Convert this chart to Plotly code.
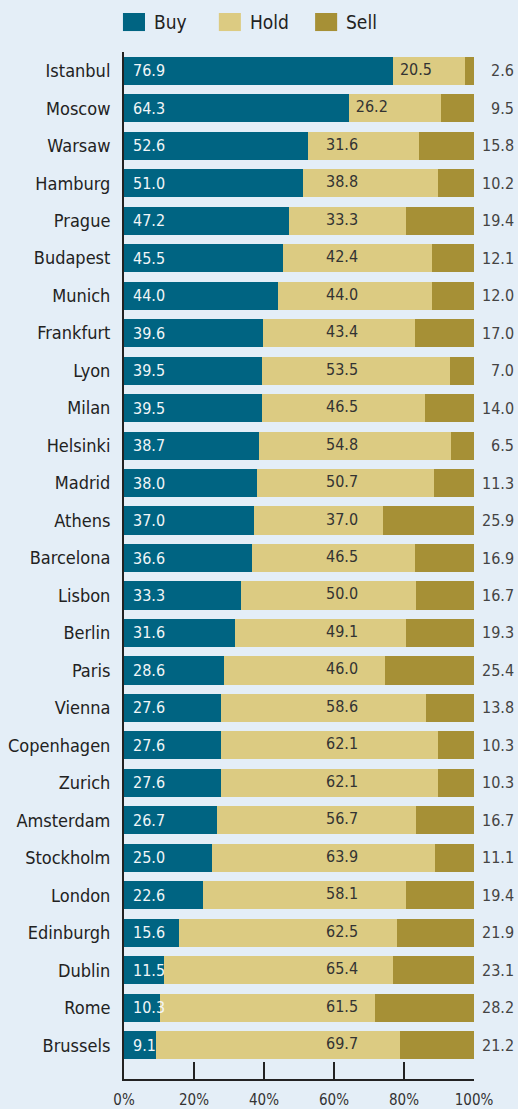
import plotly.graph_objects as go

# Survey shares (%) per city
cities = ["Istanbul", "Moscow", "Warsaw", "Hamburg", "Prague", "Budapest", "Munich",
          "Frankfurt", "Lyon", "Milan", "Helsinki", "Madrid", "Athens", "Barcelona",
          "Lisbon", "Berlin", "Paris", "Vienna", "Copenhagen", "Zurich", "Amsterdam",
          "Stockholm", "London", "Edinburgh", "Dublin", "Rome", "Brussels"]
buy = [76.9, 64.3, 52.6, 51.0, 47.2, 45.5, 44.0, 39.6, 39.5, 39.5, 38.7, 38.0, 37.0, 36.6,
       33.3, 31.6, 28.6, 27.6, 27.6, 27.6, 26.7, 25.0, 22.6, 15.6, 11.5, 10.3, 9.1]
hold = [20.5, 26.2, 31.6, 38.8, 33.3, 42.4, 44.0, 43.4, 53.5, 46.5, 54.8, 50.7, 37.0, 46.5,
        50.0, 49.1, 46.0, 58.6, 62.1, 62.1, 56.7, 63.9, 58.1, 62.5, 65.4, 61.5, 69.7]
sell = [2.6, 9.5, 15.8, 10.2, 19.4, 12.1, 12.0, 17.0, 7.0, 14.0, 6.5, 11.3, 25.9, 16.9,
        16.7, 19.3, 25.4, 13.8, 10.3, 10.3, 16.7, 11.1, 19.4, 21.9, 23.1, 28.2, 21.2]
series_names = ["Buy", "Hold", "Sell"]
tick_vals = [0, 20, 40, 60, 80, 100]
tick_text = ["0%", "20%", "40%", "60%", "80%", "100%"]

COLORS = {"Buy": "#006482", "Hold": "#dccb82", "Sell": "#a69036"}
BG = "#e4eef7"
FONT = "DejaVu Sans Condensed, Liberation Sans Narrow, Roboto, sans-serif"
HOLD_LABEL_COL = 62.3  # common column for the hold values

fig = go.Figure()
for name, vals in zip(series_names, [buy, hold, sell]):
    fig.add_trace(go.Bar(
        y=cities, x=vals, name=name, orientation="h",
        marker=dict(color=COLORS[name], line=dict(width=0)),
        showlegend=False, hoverinfo="x+y+name",
    ))

# hold values: shared column, pushed right where the buy bar extends past it
hold_x = [max(HOLD_LABEL_COL, b + 6.5) for b in buy]
fig.add_trace(go.Scatter(
    x=hold_x, y=cities, mode="text",
    text=[f"{v:.1f}" for v in hold], textposition="middle center",
    textfont=dict(family=FONT, size=16, color="#333333"),
    showlegend=False, hoverinfo="skip",
))

annotations = []
for c, b, s in zip(cities, buy, sell):
    annotations.append(dict(
        x=0, y=c, xref="x", yref="y", text=f"{b:.1f}", showarrow=False,
        xanchor="left", xshift=7, font=dict(family=FONT, size=16, color="#f2f6f8"),
    ))
    annotations.append(dict(
        x=100, y=c, xref="x", yref="y", text=f"{s:.1f}", showarrow=False,
        xanchor="right", xshift=42, font=dict(family=FONT, size=16, color="#444444"),
    ))

# legend row drawn above the plot
shapes = []
legend_x = [(-0.003, 0.08), (0.271, 0.354), (0.546, 0.629)]
for name, (x0, tx) in zip(series_names, legend_x):
    shapes.append(dict(type="rect", xref="paper", yref="paper",
                       x0=x0, x1=x0 + 0.063, y0=1.0204, y1=1.038,
                       fillcolor=COLORS[name], line=dict(width=0)))
    annotations.append(dict(x=tx, y=1.0292, xref="paper", yref="paper", text=name,
                            showarrow=False, xanchor="left", yanchor="middle",
                            font=dict(family=FONT, size=19, color="#222222")))

fig.update_layout(
    width=518, height=1109,
    barmode="stack", bargap=0.25,
    paper_bgcolor=BG, plot_bgcolor=BG,
    margin=dict(l=124, r=44, t=52, b=30),
    font=dict(family=FONT, color="#222222"),
    annotations=annotations, shapes=shapes,
    xaxis=dict(
        range=[0, 100], tickvals=tick_vals, ticktext=tick_text,
        ticks="inside", ticklen=17, tickwidth=2, tickcolor="#222222",
        showline=True, linewidth=2, linecolor="#222222",
        showgrid=False, zeroline=False, ticklabelstandoff=6, automargin=False,
        tickfont=dict(family=FONT, size=15, color="#333333"),
    ),
    yaxis=dict(
        categoryorder="array", categoryarray=cities,
        range=[26.9, -0.5], showline=True, linewidth=2, linecolor="#222222",
        showgrid=False, zeroline=False, ticks="", ticklabelstandoff=8, automargin=False,
        tickfont=dict(family=FONT, size=18, color="#222222"),
    ),
)

fig.write_html("out.html")
